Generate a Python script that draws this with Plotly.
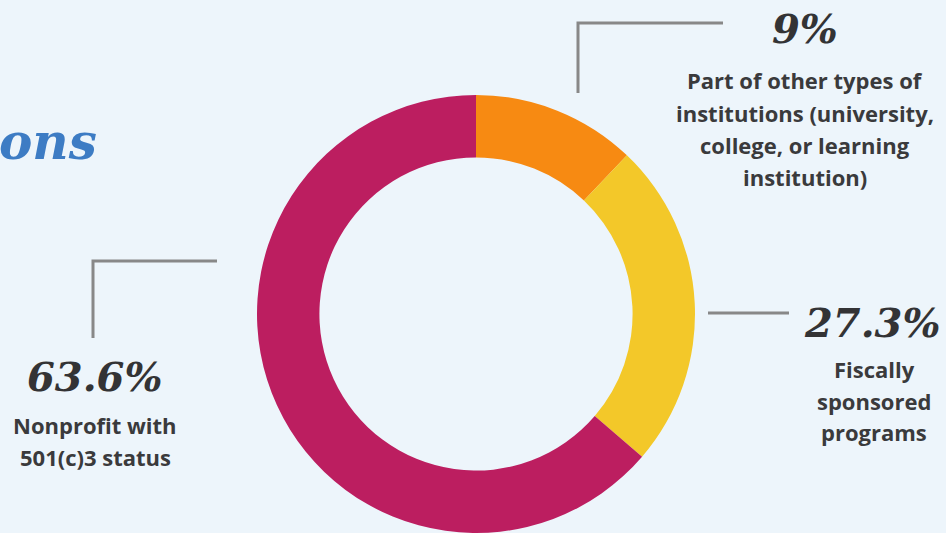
import plotly.graph_objects as go

# Data (slice sizes as drawn; label texts as printed)
categories = ["Part of other types of institutions", "Fiscally sponsored programs", "Nonprofit with 501(c)3 status"]
slice_values = [12.1, 24.2, 63.7]
pct_labels = ["9%", "27.3%", "63.6%"]
desc_lines = [
    ["Part of other types of", "institutions (university,", "college, or learning", "institution)"],
    ["Fiscally", "sponsored", "programs"],
    ["Nonprofit with", "501(c)3 status"],
]
colors = ["#f78a12", "#f3c829", "#bc1e60"]

W, H = 946, 533
BG = "#edf5fb"

def px(x):
    return x / W

def py(y):
    return 1 - y / H

fig = go.Figure()
fig.add_trace(go.Pie(
    labels=categories,
    values=slice_values,
    hole=0.715,
    sort=False,
    direction="clockwise",
    rotation=0,
    marker=dict(colors=colors, line=dict(width=0)),
    textinfo="none",
    hoverinfo="label+percent",
    showlegend=False,
    domain=dict(x=[px(476 - 219), px(476 + 219)], y=[py(314 + 219), py(314 - 219)]),
))

line_style = dict(color="#888888", width=3)
shapes = [
    dict(type="path", xref="paper", yref="paper",
         path=f"M {px(723)} {py(23)} L {px(578)} {py(23)} L {px(578)} {py(93)}", line=line_style),
    dict(type="line", xref="paper", yref="paper",
         x0=px(708), x1=px(789), y0=py(313), y1=py(313), line=line_style),
    dict(type="path", xref="paper", yref="paper",
         path=f"M {px(217)} {py(261)} L {px(93)} {py(261)} L {px(93)} {py(338)}", line=line_style),
]

num_font = dict(family="DejaVu Serif", size=40, color="#333335")
txt_font = dict(family="Open Sans", size=22, color="#3a3a3c")

pct_pos = [(805, 29), (872, 322), (94, 376)]
desc_pos = [(805, 80, 32.5), (874, 369, 31.5), (95, 425, 32)]

annotations = []
for (x, y), t in zip(pct_pos, pct_labels):
    annotations.append(dict(x=px(x), y=py(y), xref="paper", yref="paper", text=f"<b><i>{t}</i></b>",
                            showarrow=False, xanchor="center", yanchor="middle", font=num_font))
for (x, y0, dy), lines in zip(desc_pos, desc_lines):
    for i, t in enumerate(lines):
        annotations.append(dict(x=px(x), y=py(y0 + i * dy), xref="paper", yref="paper", text=f"<b>{t}</b>",
                                showarrow=False, xanchor="center", yanchor="middle", align="center",
                                font=txt_font))
annotations.append(dict(x=px(99), y=py(142), xref="paper", yref="paper", text="<b><i>ons</i></b>",
                        showarrow=False, xanchor="right", yanchor="middle",
                        font=dict(family="DejaVu Serif", size=50, color="#3d7cc4")))

fig.update_layout(
    width=W, height=H,
    margin=dict(l=0, r=0, t=0, b=0),
    paper_bgcolor=BG, plot_bgcolor=BG,
    shapes=shapes,
    annotations=annotations,
)

fig.write_html("out.html", config={"displayModeBar": False},
               post_script="document.body.style.margin='0';document.body.style.background='#edf5fb';")
